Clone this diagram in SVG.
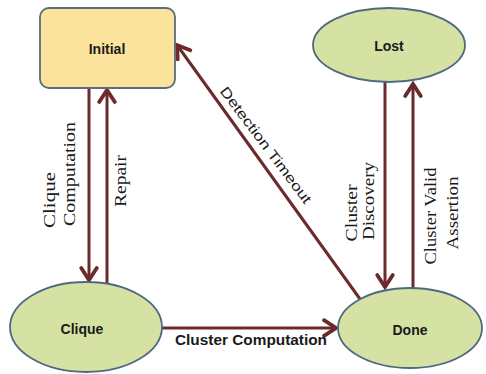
<svg xmlns="http://www.w3.org/2000/svg" width="486" height="374" viewBox="0 0 486 374">
  <defs>
    <marker id="arr" markerUnits="userSpaceOnUse" markerWidth="24" markerHeight="24" viewBox="-14 -10 18 20" refX="0" refY="0" orient="auto">
      <path d="M-10,-6.5 L0,0 L-10,6.5" fill="none" stroke="#6b2a2c" stroke-width="3.2" stroke-linecap="round" stroke-linejoin="miter"/>
    </marker>
    <style>
      .edge { stroke: #6b2a2c; stroke-width: 3; fill: none; marker-end: url(#arr); }
      .ell { fill: #d5e2a4; stroke: #4e6a80; stroke-width: 1.8; }
      .box { fill: #fce39d; stroke: #5b6d78; stroke-width: 1.8; }
      .nl { font-family: "Liberation Sans", Arial, sans-serif; font-weight: bold; font-size: 14px; fill: #1a1a1a; text-anchor: middle; }
      .sl { font-family: "Liberation Serif", "Times New Roman", serif; font-size: 17px; fill: #1a1a1a; text-anchor: middle; }
      .el { font-family: "Liberation Sans", Arial, sans-serif; font-size: 14px; fill: #1a1a1a; text-anchor: middle; }
    </style>
  </defs>

  <g id="connectors">
    <line class="edge" x1="89" y1="88" x2="89" y2="280"/>
    <line class="edge" x1="107" y1="283" x2="107" y2="90"/>
    <line class="edge" x1="360" y1="299" x2="177" y2="45"/>
    <line class="edge" x1="385" y1="82" x2="385" y2="287"/>
    <line class="edge" x1="413" y1="288" x2="413" y2="84"/>
    <line class="edge" x1="162" y1="328" x2="336" y2="328"/>
    <text class="sl" transform="translate(55,200) rotate(-90)" textLength="56" lengthAdjust="spacingAndGlyphs">Clique</text>
    <text class="sl" transform="translate(75,174) rotate(-90)" textLength="104" lengthAdjust="spacingAndGlyphs">Computation</text>
    <text class="sl" transform="translate(126,181) rotate(-90)" textLength="52" lengthAdjust="spacingAndGlyphs">Repair</text>
    <text class="el" transform="translate(262,148) rotate(53)" textLength="142" lengthAdjust="spacingAndGlyphs">Detection Timeout</text>
    <text class="sl" transform="translate(357,213) rotate(-90)" textLength="57" lengthAdjust="spacingAndGlyphs">Cluster</text>
    <text class="sl" transform="translate(374,201) rotate(-90)" textLength="78" lengthAdjust="spacingAndGlyphs">Discovery</text>
    <text class="sl" transform="translate(436,216) rotate(-90)" textLength="97" lengthAdjust="spacingAndGlyphs">Cluster Valid</text>
    <text class="sl" transform="translate(458,213) rotate(-90)" textLength="73" lengthAdjust="spacingAndGlyphs">Assertion</text>
    <text class="nl" x="251" y="345" textLength="152" lengthAdjust="spacingAndGlyphs">Cluster Computation</text>
  </g>

  <g id="node-initial">
    <rect class="box" x="40" y="8" width="135" height="80" rx="9" ry="9"/>
    <text class="nl" x="107" y="54">Initial</text>
  </g>
  <g id="node-lost">
    <ellipse class="ell" cx="389" cy="45" rx="76" ry="37"/>
    <text class="nl" x="389" y="51">Lost</text>
  </g>
  <g id="node-clique">
    <ellipse class="ell" cx="86" cy="327" rx="76" ry="45"/>
    <text class="nl" x="82" y="334">Clique</text>
  </g>
  <g id="node-done">
    <ellipse class="ell" cx="410" cy="328" rx="72" ry="40"/>
    <text class="nl" x="410" y="335">Done</text>
  </g>
</svg>
